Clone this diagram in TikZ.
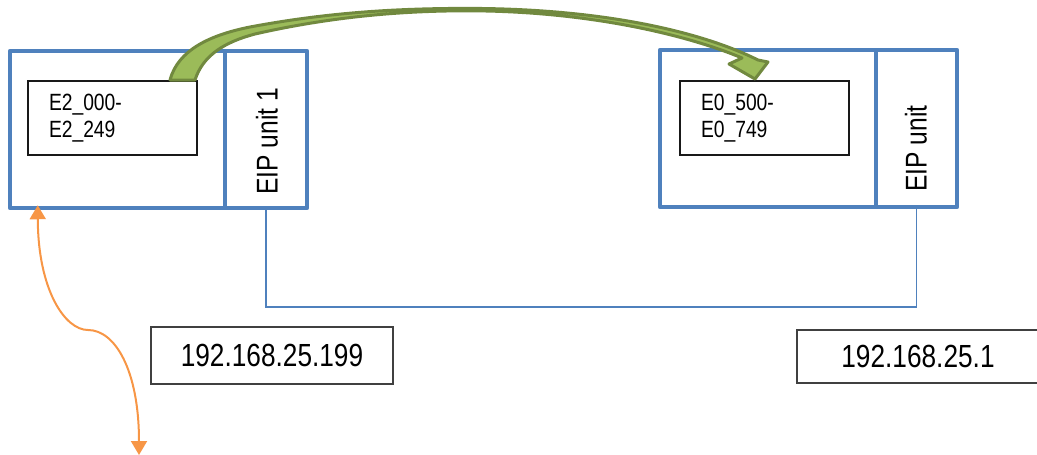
\documentclass[tikz,border=0pt]{standalone}
\usepackage{fontspec}
\setmainfont{Liberation Sans}[FakeStretch=0.82]
\usetikzlibrary{arrows.meta,calc}
\definecolor{eipblue}{HTML}{4F81BD}
\definecolor{gfill}{HTML}{9BBB59}
\definecolor{gdraw}{HTML}{71893F}
\definecolor{orng}{HTML}{F79646}
\begin{document}
\begin{tikzpicture}[x=1pt,y=-1pt,
  bluebox/.style={draw=eipblue, line width=4.5pt, line join=round, rectangle, inner sep=0pt, minimum height=157pt},
  rangebox/.style={draw=black!90, line width=1.2pt, rectangle, text width=127pt, inner xsep=21pt, inner ysep=0pt,
     minimum height=74pt, align=left, font=\fontsize{23.5}{27}\selectfont},
  ipbox/.style={draw=black!75, line width=1.5pt, rectangle, inner sep=0pt, font=\fontsize{32}{38}\selectfont},
  unitlabel/.style={rotate=90, inner sep=0pt, font=\fontsize{30}{36}\selectfont},
  wire/.style={draw=eipblue, line width=1.5pt},
  orangearrow/.style={draw=orng, line width=2pt, {Triangle[width=16pt,length=14pt]}-{Triangle[width=16pt,length=14pt]}},
  greenarrow/.style={fill=gfill, draw=gdraw, line width=3pt, line join=round}
]
\useasboundingbox (0,0) rectangle (1037,455);
\clip (0,0) rectangle (1037,455);

% blue boxes
\node[bluebox, minimum width=215pt] (lbox) at (117.5,129.5) {};
\node[bluebox, minimum width=82pt] (lunit) at (266,129.5) {};
\node[bluebox, minimum width=216pt] (rbox) at (768,128.5) {};
\node[bluebox, minimum width=81pt] (runit) at (916.5,128.5) {};

% range boxes
\node[rangebox] (e2) at (112.5,118) {E2\_000-\\E2\_249};
\node[rangebox] (e0) at (764.5,118) {E0\_500-\\E0\_749};

% unit labels
\node[unitlabel, anchor=west] (l1) at (267,195) {EIP unit 1};
\node[unitlabel, anchor=west] (l2) at (916,192) {EIP unit};

% IP boxes
\node[ipbox, minimum width=242pt, minimum height=57pt] (ip1) at (272,355.5) {192.168.25.199};
\node[ipbox, minimum width=246pt, minimum height=53pt] (ip2) at (920,356.5) {\hspace*{-4pt}192.168.25.1};

% network wire
\coordinate (mid) at (0,307);
\draw[wire] (lunit.south) -- (lunit.south |- mid) -| (runit.south);

% orange double arrow
\coordinate (oend) at (139,455);
\draw[orangearrow] ([xshift=30pt,yshift=5pt]lbox.south west) .. controls (38,290) and (65,330) .. (88,330)
   .. controls (115,330) and (139,370) .. (oend);

% green curved arrow
\filldraw[greenarrow] (170,80) .. controls (178,50) and (210,35) .. (250,27)
   .. controls (330,12) and (400,8.4) .. (467,8.4)
   .. controls (600,8.4) and (700,31) .. (758,60)
   -- (768,62) -- (755,79) -- (729,64) -- (742,58)
   .. controls (690,36) and (590,10.8) .. (467,10.8)
   .. controls (400,10.8) and (330,17) .. (255,34)
   .. controls (225,42) and (203,55) .. (195,80) -- cycle;
\end{tikzpicture}
\end{document}
